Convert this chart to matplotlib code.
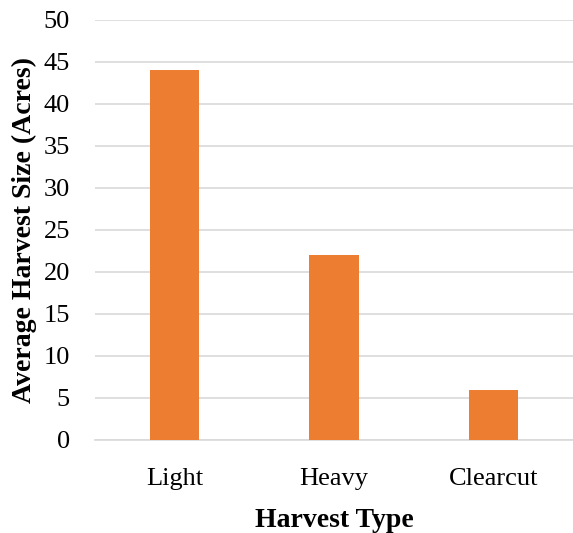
import matplotlib
matplotlib.use("Agg")
import matplotlib.pyplot as plt
import numpy as np

categories = ["Light", "Heavy", "Clearcut"]
sizes = [44, 22, 6]
yticks = [0, 5, 10, 15, 20, 25, 30, 35, 40, 45, 50]

plt.rcParams["font.family"] = ["Liberation Serif", "DejaVu Serif"]

fig = plt.figure(figsize=(5.73, 5.33), dpi=100)
ax = fig.add_axes([95 / 573, 93 / 533, 478 / 573, 420 / 533])

x = np.arange(len(categories))
ax.bar(x, sizes, width=0.31, color="#ED7D31", zorder=3)

ax.set_xlim(-0.5, len(categories) - 0.5)
ax.set_ylim(0, 50)
ax.set_yticks(yticks)
ax.set_xticks(x)
ax.set_xticklabels(categories)
ax.yaxis.grid(True, color="#D9D9D9", linewidth=1.2, zorder=0)
ax.set_axisbelow(True)
for side in ["top", "right", "left"]:
    ax.spines[side].set_visible(False)
ax.spines["bottom"].set_color("#D9D9D9")
ax.spines["bottom"].set_linewidth(1.2)
ax.tick_params(axis="both", length=0, labelsize=19)
ax.tick_params(axis="y", pad=18)
ax.tick_params(axis="x", pad=20)

ax.set_xlabel("Harvest Type", fontsize=20, fontweight="bold", labelpad=13)
ax.set_ylabel("Average Harvest Size (Acres)", fontsize=20, fontweight="bold", labelpad=5)

fig.savefig("out.png", dpi=100)
